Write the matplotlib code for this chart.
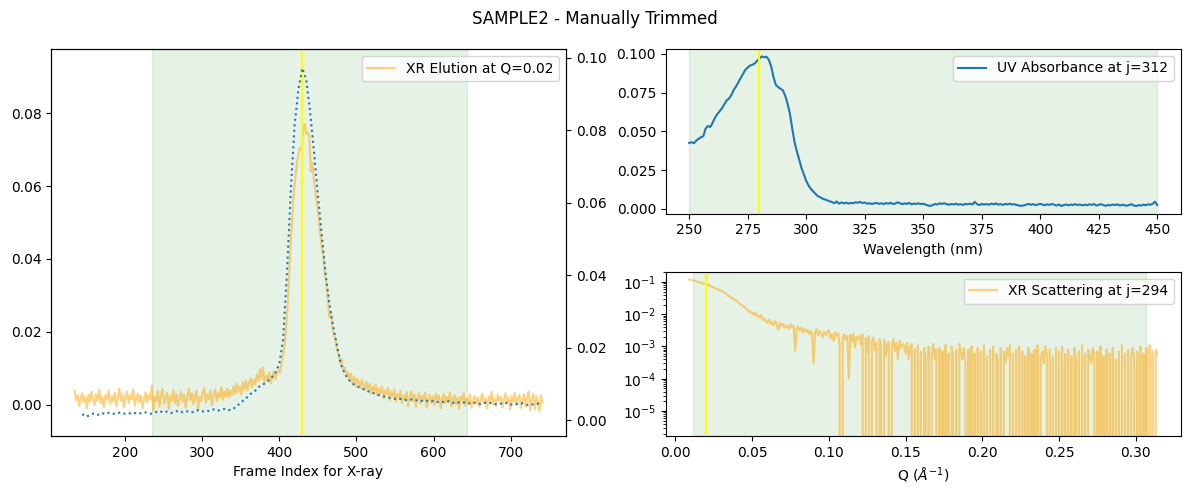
"""SAMPLE2 manual trimming view: elution, UV spectrum and XR scattering."""

import numpy as np
import matplotlib

matplotlib.use("Agg")
import matplotlib.pyplot as plt  # noqa: E402

# --- elution curves (left panel) ---
xr_frame_start, xr_frame_step = 135, 2
xr_elution = [
    0.0038, 0.0012, 0.0025, -0.0004, 0.0018, 0.0031, 0.0006, 0.0022, -0.0010, 0.0027,
    0.0009, 0.0035, 0.0015, -0.0002, 0.0029, 0.0011, 0.0041, 0.0004, 0.0020, -0.0007,
    0.0026, 0.0013, 0.0039, 0.0001, 0.0023, 0.0008, 0.0033, -0.0005, 0.0017, 0.0044,
    0.0010, 0.0028, -0.0008, 0.0021, 0.0036, 0.0003, 0.0025, 0.0014, 0.0042, -0.0003,
    0.0019, 0.0030, 0.0005, 0.0024, -0.0011, 0.0016, 0.0034, 0.0007, 0.0027, 0.0013,
    0.0052, -0.0018, 0.0021, 0.0009, 0.0037, -0.0006, 0.0026, 0.0044, 0.0002, 0.0018,
    0.0032, -0.0012, 0.0024, 0.0011, 0.0040, 0.0005, 0.0029, -0.0004, 0.0015, 0.0035,
    0.0008, 0.0027, -0.0009, 0.0020, 0.0043, 0.0012, 0.0031, 0.0001, 0.0024, 0.0038,
    -0.0015, 0.0022, 0.0010, 0.0034, 0.0046, 0.0006, 0.0028, 0.0015, 0.0039, -0.0002,
    0.0025, 0.0041, 0.0009, 0.0032, 0.0018, 0.0047, 0.0013, 0.0036, 0.0022, 0.0044,
    0.0019, 0.0038, 0.0026, 0.0051, 0.0030, 0.0057, 0.0035, 0.0049, 0.0028, 0.0061,
    0.0042, 0.0066, 0.0038, 0.0059, 0.0072, 0.0047, 0.0068, 0.0055, 0.0083, 0.0064,
    0.0097, 0.0070, 0.0102, 0.0061, 0.0079, 0.0067, 0.0088, 0.0058, 0.0076, 0.0091,
    0.0069, 0.0084, 0.0095, 0.0088, 0.0112,
    0.0135, 0.0160, 0.0215, 0.0275, 0.0360, 0.0450, 0.0520, 0.0585, 0.0625, 0.0665,
    0.0690, 0.0705, 0.0700, 0.0755, 0.0770, 0.0745, 0.0748, 0.0735, 0.0640, 0.0665,
    0.0615, 0.0580, 0.0550, 0.0515, 0.0470, 0.0435, 0.0410, 0.0365, 0.0330, 0.0290,
    0.0240, 0.0250, 0.0210, 0.0190, 0.0178, 0.0150, 0.0138, 0.0112, 0.0125, 0.0096,
    0.0102, 0.0078,
    0.0090, 0.0068, 0.0085, 0.0058, 0.0077, 0.0049, 0.0071, 0.0062, 0.0045, 0.0068,
    0.0052, 0.0039, 0.0063, 0.0041, 0.0057, 0.0030, 0.0049, 0.0036, 0.0055, 0.0024,
    0.0044, 0.0031, 0.0050, 0.0018, 0.0039, 0.0027, 0.0046, 0.0012, 0.0035, 0.0022,
    0.0041, 0.0008, 0.0030, 0.0017, 0.0038, 0.0004, 0.0026, 0.0013, 0.0034, -0.0004,
    0.0021, 0.0036, 0.0009, 0.0028, -0.0006, 0.0019, 0.0031, 0.0002, 0.0024, 0.0012,
    0.0033, -0.0008, 0.0018, 0.0027, 0.0005, 0.0022, -0.0002, 0.0030, 0.0011, 0.0025,
    -0.0010, 0.0016, 0.0029, 0.0003, 0.0021, 0.0008, 0.0034, -0.0005, 0.0014, 0.0026,
    0.0001, 0.0019, -0.0012, 0.0023, 0.0010, 0.0032, -0.0003, 0.0017, 0.0006, 0.0028,
    -0.0009, 0.0013, 0.0024, 0.0002, 0.0020, -0.0006, 0.0015, 0.0030, 0.0004, 0.0018,
    -0.0011, 0.0022, 0.0009, 0.0035, 0.0000, 0.0016, -0.0004, 0.0027, 0.0011, 0.0021,
    -0.0008, 0.0014, 0.0031, 0.0003, 0.0019, -0.0013, 0.0024, 0.0007, 0.0033, -0.0002,
    0.0017, 0.0026, -0.0010, 0.0012, 0.0029, -0.0005, 0.0020, 0.0036, -0.0016, 0.0015,
    0.0030, -0.0014, 0.0023, 0.0008, -0.0018, 0.0025, 0.0006,
]
uv_frame_start, uv_frame_step = 145, 5
uv_elution = [
    0.0017, 0.0010, 0.0014, 0.0019, 0.0015, 0.0020, 0.0017, 0.0021, 0.0018, 0.0019,
    0.0022, 0.0018, 0.0020, 0.0017, 0.0021, 0.0019, 0.0023, 0.0020, 0.0018, 0.0022,
    0.0026, 0.0021, 0.0024, 0.0020, 0.0023, 0.0027, 0.0022, 0.0025, 0.0021, 0.0024,
    0.0028, 0.0025, 0.0023, 0.0027, 0.0030, 0.0026, 0.0029, 0.0032, 0.0028, 0.0030,
    0.0040, 0.0047, 0.0058, 0.0066, 0.0077, 0.0083, 0.0095, 0.0100, 0.0108, 0.0117,
    0.0131, 0.0154,
    0.0222, 0.0405, 0.0633, 0.0816, 0.0916, 0.0972, 0.0940, 0.0852, 0.0742, 0.0624,
    0.0514, 0.0405, 0.0322, 0.0258, 0.0204, 0.0153,
    0.0128, 0.0112, 0.0101, 0.0095, 0.0089, 0.0085, 0.0080, 0.0077, 0.0072, 0.0069,
    0.0066, 0.0063, 0.0061, 0.0059, 0.0060, 0.0057, 0.0056, 0.0058, 0.0054, 0.0056,
    0.0053, 0.0055, 0.0051, 0.0054, 0.0050, 0.0052, 0.0049, 0.0053, 0.0048, 0.0051,
    0.0047, 0.0049, 0.0046, 0.0050, 0.0047, 0.0045, 0.0049, 0.0046, 0.0048, 0.0044,
    0.0047, 0.0045, 0.0048, 0.0043, 0.0046, 0.0044, 0.0047, 0.0042, 0.0045, 0.0043,
    0.0046, 0.0041,
]
elution_range = (235, 643)
elution_peak = 429

# --- UV absorbance spectrum (top right), 1 nm steps from 250 nm ---
wl_start = 250
uv_spectrum = [
    0.0425, 0.0430, 0.0424, 0.0440, 0.0452, 0.0462, 0.0468, 0.0518, 0.0535, 0.0528,
    0.0556, 0.0588, 0.0612, 0.0630, 0.0650, 0.0675, 0.0700, 0.0712, 0.0735, 0.0768,
    0.0790, 0.0818, 0.0845, 0.0872, 0.0898, 0.0912, 0.0925, 0.0930, 0.0938, 0.0955,
    0.0972, 0.0984, 0.0978, 0.0982, 0.0962, 0.0920, 0.0850, 0.0800, 0.0786, 0.0775,
    0.0765, 0.0730, 0.0680, 0.0615, 0.0520, 0.0430, 0.0370, 0.0315, 0.0262, 0.0222,
    0.0180, 0.0150, 0.0128, 0.0112, 0.0096, 0.0082, 0.0074, 0.0066, 0.0060, 0.0055,
    0.0048, 0.0044, 0.0036, 0.0047, 0.0033, 0.0041, 0.0035, 0.0040, 0.0034, 0.0038,
    0.0036, 0.0042, 0.0039, 0.0045, 0.0037, 0.0041, 0.0033, 0.0036, 0.0031, 0.0035,
    0.0038, 0.0032, 0.0036, 0.0030, 0.0037, 0.0033, 0.0039, 0.0031, 0.0034, 0.0042,
    0.0036, 0.0030, 0.0035, 0.0032, 0.0038, 0.0029, 0.0034, 0.0031, 0.0036, 0.0030,
    0.0033, 0.0027, 0.0022, 0.0018, 0.0024, 0.0031, 0.0028, 0.0035, 0.0032, 0.0036,
    0.0030, 0.0026, 0.0031, 0.0028, 0.0033, 0.0027, 0.0030, 0.0025, 0.0032, 0.0029,
    0.0034, 0.0028, 0.0045, 0.0030, 0.0024, 0.0032, 0.0027, 0.0031, 0.0026, 0.0033,
    0.0029, 0.0035, 0.0027, 0.0031, 0.0025, 0.0032, 0.0028, 0.0033, 0.0027, 0.0030,
    0.0024, 0.0021, 0.0019, 0.0022, 0.0027, 0.0031, 0.0026, 0.0030, 0.0024, 0.0028,
    0.0032, 0.0027, 0.0023, 0.0029, 0.0025, 0.0031, 0.0026, 0.0021, 0.0028, 0.0018,
    0.0024, 0.0028, 0.0022, 0.0027, 0.0025, 0.0030, 0.0024, 0.0028, 0.0022, 0.0027,
    0.0023, 0.0029, 0.0025, 0.0031, 0.0021, 0.0026, 0.0030, 0.0024, 0.0019, 0.0025,
    0.0022, 0.0028, 0.0024, 0.0029, 0.0021, 0.0026, 0.0023, 0.0020, 0.0025, 0.0030,
    0.0021, 0.0018, 0.0024, 0.0020, 0.0027, 0.0023, 0.0029, 0.0026, 0.0032, 0.0046,
    0.0024,
]
uv_range = (250, 450)
uv_peak = 280

# --- XR scattering curve (bottom right), Q step 0.001 from 0.009 ---
q_start, q_step = 0.009, 0.001
xr_scatter = [
    0.120, 0.117, 0.114, 0.110, 0.106, 0.103, 0.100, 0.097, 0.093, 0.090,
    0.087, 0.085, 0.081, 0.078, 0.074, 0.071, 0.067, 0.064, 0.061, 0.058,
    0.055, 0.053, 0.050, 0.046, 0.043, 0.039, 0.036, 0.034, 0.031, 0.029,
    0.027, 0.026, 0.023, 0.021, 0.020, 0.018, 0.017, 0.015, 0.0135, 0.0118,
    0.0125, 0.0108, 0.0098, 0.0112, 0.0085, 0.0092, 0.0078, 0.0095, 0.0066, 0.0072,
    0.0061, 0.0054, 0.0068, 0.0049, 0.0058, 0.0045, 0.0062, 0.0047, 0.0033, 0.0055,
    0.0043, 0.0051, 0.0038, 0.0046, 0.0041, 0.0035, 0.0049, 0.0039, 0.0044, 0.0007,
    0.0036, 0.0042, 0.0031, 0.0038, 0.0027, 0.0035, 0.0029, 0.0033, 0.0024, 0.0030,
    0.0026, 0.0003, 0.0028, 0.0035, 0.0022, 0.0031, 0.0025, 0.0019, 0.0029, 0.0023,
    0.0027, 0.0032, 0.0018, 0.0024, 0.0015, 0.0028, 0.0021, 0.0026, 0.0012, -0.0002,
    0.0019, 0.0024, 0.0016, 0.0021, 0.0001, 0.0023, 0.0014, 0.0025, 0.0009, 0.0020,
    0.0017, 0.0022, 0.0011, 0.0024, -0.0003, 0.0018, 0.0007, 0.0021, -0.0001, 0.0015,
    0.0019, 0.0008, 0.0013, -0.0004, 0.0017, 0.0010, -0.0002, 0.0016, 0.0005, 0.0012,
    0.0014, -0.0003, 0.0011, 0.0017, 0.0007, 0.0013, 0.0004, 0.0015, 0.0009, 0.0012,
    0.0011, 0.0006, 0.0013, 0.0004, 0.0009, 0.0012,
    -0.0004, 0.0008, -0.0006, 0.0011, -0.0002, 0.0007, -0.0005, 0.0009, 0.0005, -0.0003,
    0.0010, -0.0006, 0.0006, 0.0012, 0.0004, 0.0008, -0.0004, 0.0009, -0.0002, 0.0007,
    -0.0005, 0.0011, -0.0003, 0.0006, -0.0007, 0.0010, 0.0005, -0.0004, 0.0008, -0.0001,
    0.0012, 0.0007, 0.0004, 0.0009, 0.0003, -0.0005, 0.0008, -0.0003, 0.0010, -0.0006,
    0.0006, -0.0002, 0.0009, -0.0005, 0.0007, -0.0004, 0.0011, -0.0006, 0.0005, -0.0003,
    0.0008, -0.0001, 0.0010, -0.0005, 0.0006, 0.0004, -0.0003, 0.0009, -0.0006, 0.0007,
    0.0003, 0.0009, 0.0005, 0.0011, -0.0004, 0.0006, -0.0002, 0.0008, -0.0005, 0.0010,
    -0.0003, 0.0007, -0.0006, 0.0005, -0.0001, 0.0009, -0.0004, 0.0006, -0.0005, 0.0008,
    -0.0002, 0.0011, -0.0006, 0.0004, 0.0007, 0.0003, 0.0010, 0.0006, -0.0004, 0.0008,
    -0.0003, 0.0005, -0.0006, 0.0009, -0.0002, 0.0007, -0.0005, 0.0010, -0.0001, 0.0006,
    -0.0004, 0.0008, -0.0003, 0.0005, -0.0006, 0.0009, 0.0004, -0.0002, 0.0007, -0.0005,
    0.0011, -0.0004, 0.0006, -0.0001, 0.0008, 0.0005, 0.0003, 0.0009, 0.0006, -0.0003,
    0.0007, -0.0006, 0.0010, -0.0002, 0.0005, -0.0004, 0.0008, -0.0005, 0.0006, -0.0001,
    0.0009, -0.0003, 0.0004, -0.0006, 0.0007, -0.0002, 0.0011, -0.0005, 0.0006, -0.0004,
    0.0008, -0.0001, 0.0005, 0.0009, 0.0004, -0.0006, 0.0007, -0.0003, 0.0010, -0.0005,
    0.0006, -0.0002, 0.0009, -0.0004, 0.0011, -0.0006, 0.0007, -0.0003, 0.0008, 0.0006,
]
q_range = (0.0114, 0.3065)
q_peak = 0.02


def main():
    xr_frames = xr_frame_start + xr_frame_step * np.arange(len(xr_elution))
    uv_frames = uv_frame_start + uv_frame_step * np.arange(len(uv_elution))
    wavelengths = wl_start + np.arange(len(uv_spectrum))
    qv = q_start + q_step * np.arange(len(xr_scatter))

    fig = plt.figure(figsize=(11.89, 4.94), dpi=100)
    gs = fig.add_gridspec(2, 2, left=0.043, right=0.993, top=0.901, bottom=0.117,
                          wspace=0.194, hspace=0.353)
    fig.suptitle("SAMPLE2 - Manually Trimmed")

    # elution
    ax0 = fig.add_subplot(gs[:, 0])
    ax0.axvspan(*elution_range, color="green", alpha=0.1)
    ax0.plot(xr_frames, xr_elution, color="orange", alpha=0.5, label="XR Elution at Q=0.02")
    ax0.axvline(elution_peak, color="yellow")
    ax0.set_ylim(-0.0087, 0.0977)
    ax0.set_xlabel("Frame Index for X-ray")
    ax0.legend(loc="upper right")
    ax0b = ax0.twinx()
    ax0b.plot(uv_frames, uv_elution, ":", color="C0")
    ax0b.set_ylim(-0.0044, 0.1025)

    # UV spectrum
    ax1 = fig.add_subplot(gs[0, 1])
    ax1.axvspan(*uv_range, color="green", alpha=0.1)
    ax1.plot(wavelengths, uv_spectrum, color="C0", label="UV Absorbance at j=312")
    ax1.axvline(uv_peak, color="yellow")
    ax1.set_xlabel("Wavelength (nm)")
    ax1.legend(loc="upper right")

    # XR scattering
    ax2 = fig.add_subplot(gs[1, 1])
    ax2.set_yscale("log")
    ax2.axvspan(*q_range, color="green", alpha=0.1)
    ax2.plot(qv, xr_scatter, color="orange", alpha=0.5, label="XR Scattering at j=294")
    ax2.axvline(q_peak, color="yellow")
    ax2.set_ylim(1.65e-6, 0.21)
    ax2.set_xlabel(r"Q ($\AA^{-1}$)")
    ax2.legend(loc="upper right")

    fig.savefig("out.png", dpi=100)


if __name__ == "__main__":
    main()
